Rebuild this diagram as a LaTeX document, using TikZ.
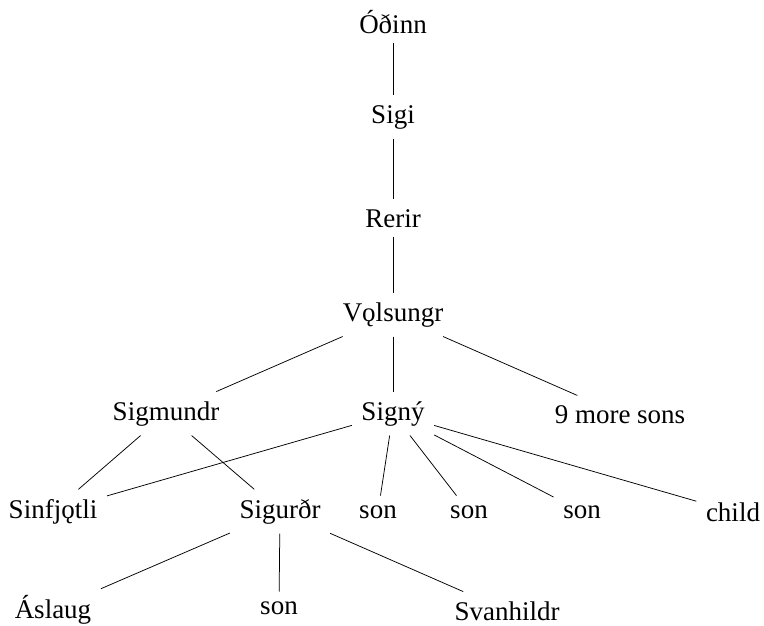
\documentclass[tikz,border=0pt]{standalone}
\usepackage{fontspec}
\setmainfont{Liberation Serif}
\usetikzlibrary{positioning}

\begin{document}
\begin{tikzpicture}[x=1pt, y=-1pt,
        person/.style={anchor=base, inner sep=9.5pt, font=\fontsize{27}{31}\selectfont},
        link/.style={line width=0.75pt}]
        \useasboundingbox (0,0) rectangle (764,625);

        % Line of descent
        \node[person] (odinn) at (393,33) {Óðinn};
        \node[person] (sigi) at (393,123) {Sigi};
        \node[person] (rerir) at (393,227) {Rerir};
        \node[person] (volsungr) at (393,321) {Vǫlsungr};

        % Children of Volsungr
        \node[person] (sigmundr) at (166,420) {Sigmundr};
        \node[person] (signy) at (393,420) {Signý};
        \node[person] (moresons) at (620,423) {9 more sons};

        % Grandchildren
        \node[person] (sinfjotli) at (53,518) {Sinfjǫtli};
        \node[person] (sigurdr) at (280,518) {Sigurðr};
        \node[person] (sonA) at (378,518) {son};
        \node[person] (sonB) at (469,518) {son};
        \node[person] (sonC) at (582,518) {son};
        \node[person] (child) at (733,521) {child};

        % Children of Sigurdr
        \node[person] (aslaug) at (53,618) {Áslaug};
        \node[person] (sonD) at (279,614) {son};
        \node[person] (svanhildr) at (507,620) {Svanhildr};

        \draw[link] (odinn) -- (sigi);
        \draw[link] (sigi) -- (rerir);
        \draw[link] (rerir) -- (volsungr);
        \draw[link] (volsungr) -- (sigmundr);
        \draw[link] (volsungr) -- (signy);
        \draw[link] (volsungr) -- (moresons);
        \draw[link] (sigmundr) -- (sinfjotli);
        \draw[link] (sigmundr) -- (sigurdr);
        \draw[link] (signy) -- (sinfjotli);
        \draw[link] (signy) -- (sonA);
        \draw[link] (signy) -- (sonB);
        \draw[link] (signy) -- (sonC);
        \draw[link] (signy) -- (child);
        \draw[link] (sigurdr) -- (aslaug);
        \draw[link] (sigurdr) -- (sonD);
        \draw[link] (sigurdr) -- (svanhildr);
    \end{tikzpicture}
\end{document}
